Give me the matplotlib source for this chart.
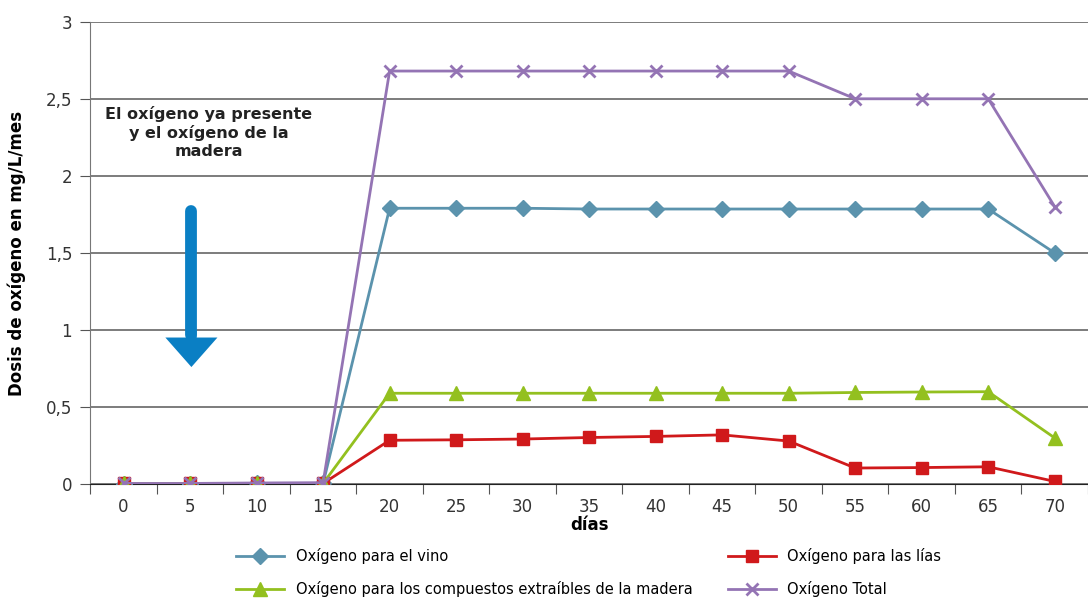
import numpy as np
import matplotlib
matplotlib.use("Agg")
from matplotlib import pyplot as plt

dias = ["0", "5", "10", "15", "20", "25", "30", "35", "40", "45", "50", "55", "60", "65", "70"]
vino = [0.0, 0.0, 0.005, 0.005, 1.79, 1.79, 1.79, 1.785, 1.785, 1.785, 1.785, 1.785, 1.785, 1.785, 1.5]
lias = [0.005, 0.005, 0.005, 0.005, 0.285, 0.288, 0.293, 0.303, 0.31, 0.32, 0.28, 0.105, 0.108, 0.113, 0.018]
madera = [0.005, 0.005, 0.005, 0.005, 0.59, 0.59, 0.59, 0.59, 0.59, 0.59, 0.59, 0.595, 0.598, 0.6, 0.3]
total = [0.005, 0.005, 0.008, 0.01, 2.68, 2.68, 2.68, 2.68, 2.68, 2.68, 2.68, 2.5, 2.5, 2.5, 1.8]

plt.rcParams["font.family"] = ["DejaVu Sans"]
fig = plt.figure(figsize=(10.88, 6.03), dpi=100)
ax = fig.add_axes([0.083, 0.197, 0.917, 0.767])

x = np.arange(len(dias))
l1, = ax.plot(x, vino, color="#5b93ad", lw=2, marker="D", ms=8, label="Oxígeno para el vino", zorder=3)
l3, = ax.plot(x, lias, color="#d0191b", lw=2, marker="s", ms=9, label="Oxígeno para las lías", zorder=3)
l2, = ax.plot(x, madera, color="#93c01f", lw=2, marker="^", ms=10, label="Oxígeno para los compuestos extraíbles de la madera", zorder=3)
l4, = ax.plot(x, total, color="#9474b4", lw=2, marker="x", ms=9, mew=2, label="Oxígeno Total", zorder=4)

ax.set_xlim(-0.5, 14.5)
ax.set_ylim(0, 3)
ax.set_yticks(np.arange(0, 3.01, 0.5))
ax.set_yticklabels(["0", "0,5", "1", "1,5", "2", "2,5", "3"], fontsize=12, color="#333333")
ax.set_xticks(np.arange(-0.5, 15, 1))
ax.set_xticklabels([])
ax.set_xticks(x, minor=True)
ax.set_xticklabels(dias, minor=True, fontsize=12, color="#333333")
ax.tick_params(axis="x", which="major", length=7, color="#555555")
ax.tick_params(axis="x", which="minor", length=0, pad=10)
ax.tick_params(axis="y", length=7, color="#555555", pad=6)
ax.yaxis.grid(True, color="#666666", lw=1.2)
ax.set_axisbelow(True)
for s in ["top", "right"]:
    ax.spines[s].set_visible(False)
ax.spines["left"].set_color("#777777")
ax.spines["bottom"].set_color("#222222")

ax.set_xlabel("días", fontsize=12, fontweight="bold", labelpad=0)
ax.set_ylabel("Dosis de oxígeno en mg/L/mes", fontsize=12, fontweight="bold", labelpad=14)

ax.text(1.28, 2.28, "El oxígeno ya presente\ny el oxígeno de la\nmadera", ha="center", va="center",
        fontsize=11.5, fontweight="bold", color="#222222", linespacing=1.25)
# arrow: thick rounded shaft + head
ax.plot([1.02, 1.02], [1.77, 0.97], color="#0a7fc4", lw=8.5, solid_capstyle="round", zorder=2)
ax.annotate("", xy=(1.02, 0.76), xytext=(1.02, 1.0),
            arrowprops=dict(arrowstyle="simple,head_width=1.5,head_length=0.85,tail_width=0.3",
                            color="#0a7fc4", lw=0, mutation_scale=25, shrinkA=0, shrinkB=0))

fig.legend(handles=[l1, l2, l3, l4], loc="lower left", bbox_to_anchor=(0.205, -0.012), ncol=2,
           frameon=False, fontsize=10.5, columnspacing=2.4, handlelength=3.3, labelspacing=1.15,
           borderpad=0.4)

fig.savefig("out.png", dpi=100)
